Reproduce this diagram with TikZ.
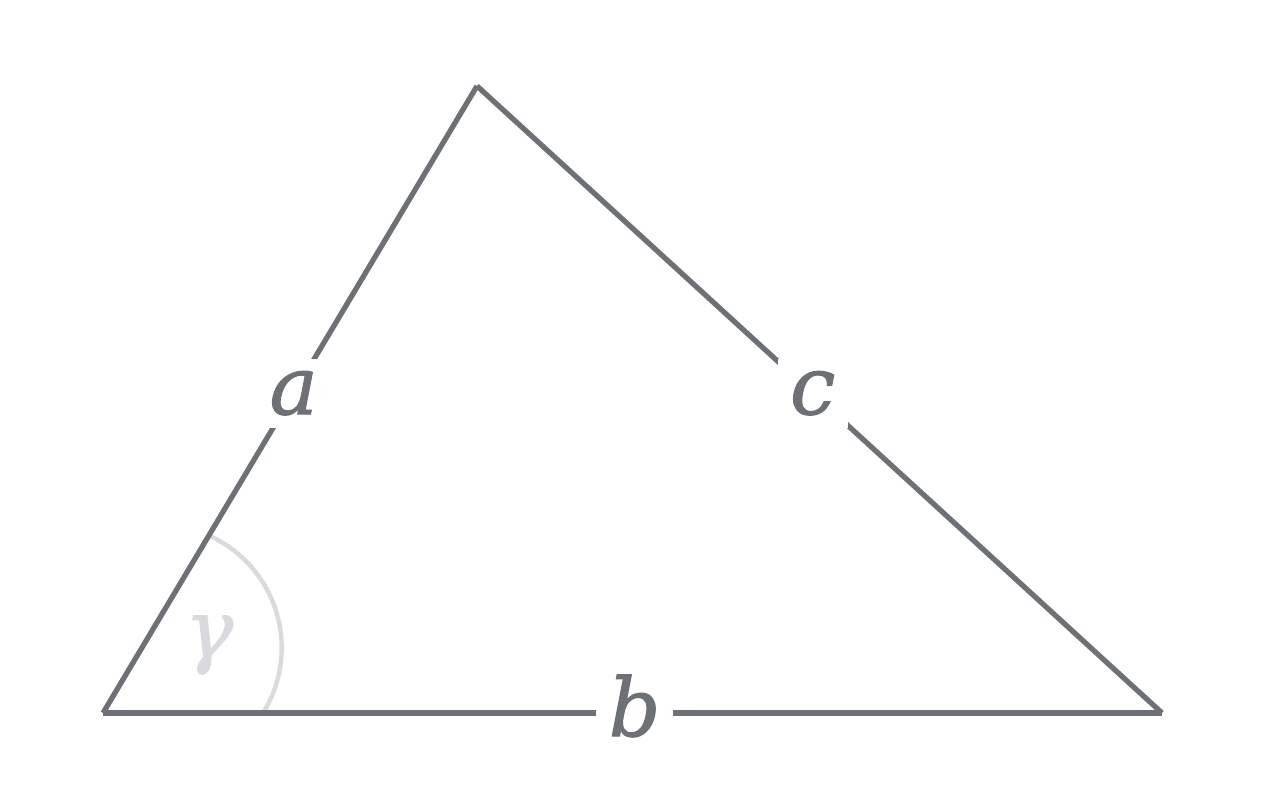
\documentclass[tikz,border=0pt]{standalone}
\usepackage{fontspec}
\setmainfont{DejaVu Serif}
\newfontfamily\sidefont{DejaVu Serif}[FakeBold=1.3]
\usetikzlibrary{positioning}
\definecolor{sidegray}{HTML}{6D7176}
\definecolor{anglegray}{HTML}{D9DADD}

\begin{document}
\begin{tikzpicture}[x=0.02cm, y=-0.02cm,
                    side/.style={draw=sidegray, line width=3pt},
                    sidelabel/.style={fill=white, text=sidegray, inner sep=7pt,
                                      font=\fontsize{46}{50}\sidefont\itshape},
                    anglearc/.style={draw=anglegray, line width=2.5pt}]
\useasboundingbox (0,0) rectangle (1266,802);

\coordinate (C) at (103,713);
\coordinate (T) at (477,86);
\coordinate (R) at (1162,713);

\draw[anglearc] (263,713) arc[start angle=32, end angle=-65, radius=123];
\node[text=anglegray, font=\fontsize{46}{50}\sidefont\itshape] (gamma) at (209,645) {γ};

\path[side]
(C) edge node[sidelabel, pos=0.51] (la) {a} (T)
(T) edge node[sidelabel, pos=0.49] (lc) {c} (R)
(C) edge node[sidelabel, pos=0.502, yshift=4pt] (lb) {b} (R);
\end{tikzpicture}
\end{document}
